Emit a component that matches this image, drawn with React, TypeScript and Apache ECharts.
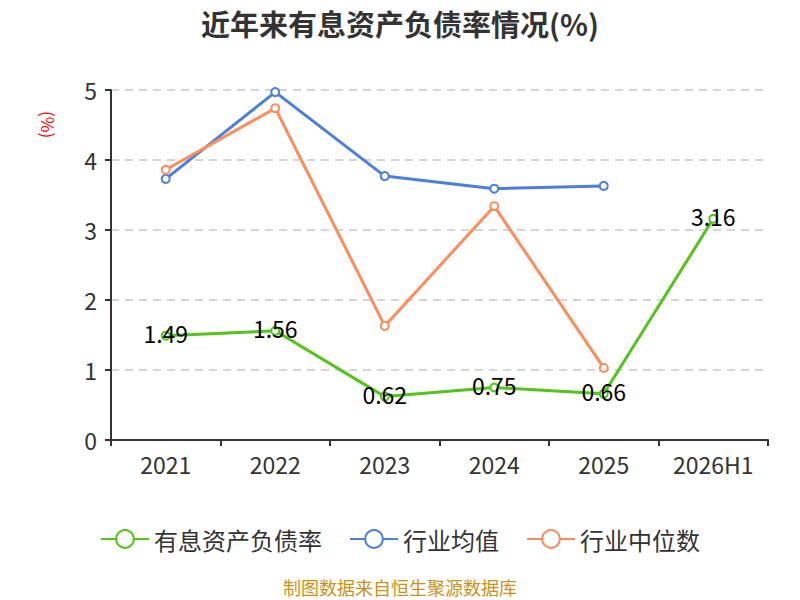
import React, { useEffect, useRef } from "react";
import * as echarts from "echarts";

const categories = ["2021", "2022", "2023", "2024", "2025", "2026H1"];
const debtRatio = [1.49, 1.56, 0.62, 0.75, 0.66, 3.16];
const industryAvg = [3.73, 4.97, 3.77, 3.59, 3.63, null];
const industryMedian = [3.86, 4.74, 1.63, 3.34, 1.03, null];
const yTicks = { min: 0, max: 5, interval: 1 };

const FONT = "'Noto Sans CJK SC', 'Noto Sans', sans-serif";

const App: React.FC = () => {
  const chartRef = useRef<HTMLDivElement>(null);

  useEffect(() => {
    if (!chartRef.current) return;
    document.body.style.margin = "0";
    const chart = echarts.init(chartRef.current, undefined, { renderer: "svg" });

    const lineSeries = (name: string, data: (number | null)[], color: string, label = false) => ({
      name,
      type: "line" as const,
      data,
      symbol: "emptyCircle",
      symbolSize: 8,
      lineStyle: { width: 3, color },
      itemStyle: { color, borderWidth: 2 },
      label: label
        ? { show: true, position: "inside", offset: [0, -3], color: "#000", fontSize: 23, fontFamily: FONT }
        : { show: false },
      z: label ? 3 : 2,
    });

    chart.setOption({
      animation: false,
      textStyle: { fontFamily: FONT },
      title: {
        text: "近年来有息资产负债率情况(%)",
        left: "center",
        top: 3,
        textStyle: { fontSize: 29, fontWeight: "bold", color: "#333", fontFamily: FONT },
      },
      grid: { left: 111, right: 32, top: 90, bottom: 160 },
      legend: {
        top: 522,
        left: "center",
        itemWidth: 48,
        itemHeight: 22,
        itemGap: 27,
        textStyle: { fontSize: 24, color: "#333", fontFamily: FONT },
        data: ["有息资产负债率", "行业均值", "行业中位数"],
      },
      graphic: [
        {
          type: "text",
          left: "center",
          top: 578,
          style: { text: "制图数据来自恒生聚源数据库", fill: "#c8921c", fontSize: 18, fontFamily: FONT },
        },
        {
          type: "text",
          x: 57,
          y: 111,
          rotation: -Math.PI / 2,
          style: { text: "(%)", fill: "red", fontSize: 17, fontFamily: FONT },
        },
      ],
      xAxis: {
        type: "category",
        data: categories,
        boundaryGap: true,
        axisLine: { lineStyle: { color: "#333", width: 2 } },
        axisTick: { show: true, length: 6, lineStyle: { color: "#333", width: 2 } },
        axisLabel: { fontSize: 23, color: "#333", margin: 12, fontFamily: FONT },
      },
      yAxis: {
        type: "value",
        min: yTicks.min,
        max: yTicks.max,
        interval: yTicks.interval,
        axisLine: { show: true, lineStyle: { color: "#333", width: 2 } },
        axisTick: { show: true, length: 6, lineStyle: { color: "#333", width: 2 } },
        axisLabel: { fontSize: 23, color: "#333", margin: 14, fontFamily: FONT },
        splitLine: { lineStyle: { type: [8, 6], color: "#c8c8c8", width: 1.5 } },
      },
      series: [
        lineSeries("有息资产负债率", debtRatio, "#52c41a", true),
        lineSeries("行业均值", industryAvg, "#4a7fe0"),
        lineSeries("行业中位数", industryMedian, "#ff8c5a"),
      ],
    });

    return () => chart.dispose();
  }, []);

  return <div ref={chartRef} style={{ width: 800, height: 600 }} />;
};

export default App;
